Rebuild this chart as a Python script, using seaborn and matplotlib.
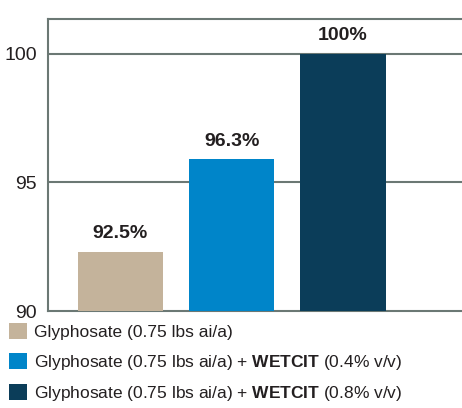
import numpy as np
import pandas as pd
import matplotlib

matplotlib.use('Agg')

import matplotlib.pyplot as plt
from matplotlib.patches import Patch
import seaborn as sns

sns.set_style("white")
plt.rcParams['font.family'] = ['Liberation Sans', 'DejaVu Sans']
plt.rcParams['mathtext.fontset'] = 'custom'
plt.rcParams['mathtext.bf'] = 'Liberation Sans:bold'
plt.rcParams['mathtext.rm'] = 'Liberation Sans'

# data
treatments = ["Glyphosate", "Glyphosate + WETCIT 0.4%", "Glyphosate + WETCIT 0.8%"]
heights = [92.3, 95.9, 100.0]
bar_labels = ["92.5%", "96.3%", "100%"]
legend_labels = [
    "Glyphosate (0.75 lbs ai/a)",
    "Glyphosate (0.75 lbs ai/a) + $\\bf{WETCIT}$ (0.4% v/v)",
    "Glyphosate (0.75 lbs ai/a) + $\\bf{WETCIT}$ (0.8% v/v)",
]
y_ticks = [90, 95, 100]
colors = ["#C4B39B", "#0085C9", "#0B3D59"]
line_col = "#6B7874"

df = pd.DataFrame({'Treatment': treatments, 'Control': heights})

fig = plt.figure(figsize=(4.62, 4.08), dpi=100)
ax = fig.add_axes([0.104, 0.2377, 0.896, 0.7157])

sns.barplot(data=df, x='Treatment', y='Control', hue='Treatment',
            palette=colors, legend=False, width=0.77, ax=ax,
            saturation=1, linewidth=0, zorder=3)

ax.set_ylim(90, 101.36)
ax.set_xlim(-0.65, 3.07)
ax.set_yticks(y_ticks)
# little stub under the left corner
ax.set_xticks([-0.65])
ax.set_xticklabels([""])
ax.tick_params(axis='x', length=4, width=1.5, color=line_col, direction='out')
ax.set_xlabel("")
ax.set_ylabel("")
ax.tick_params(axis='y', length=0, labelsize=14, pad=8, labelcolor="#231F20")

for y in y_ticks[1:]:
    ax.axhline(y, color=line_col, lw=1.5, zorder=1)

for side in ['left', 'top', 'bottom']:
    ax.spines[side].set_color(line_col)
    ax.spines[side].set_linewidth(1.5)
ax.spines['right'].set_visible(False)

for cont, lab in zip(ax.containers, bar_labels):
    ax.bar_label(cont, labels=[lab], padding=7, fontsize=14,
                 fontweight='bold', color="#231F20")

handles = [Patch(facecolor=c, edgecolor='none') for c in colors]
fig.legend(handles, legend_labels, loc='upper left',
           bbox_to_anchor=(0.02, 0.208), frameon=False, fontsize=12.5,
           handlelength=1.05, handleheight=1.05, handletextpad=0.4,
           labelspacing=0.72, borderaxespad=0, borderpad=0,
           labelcolor="#231F20")

plt.savefig("out.png", dpi=100)
